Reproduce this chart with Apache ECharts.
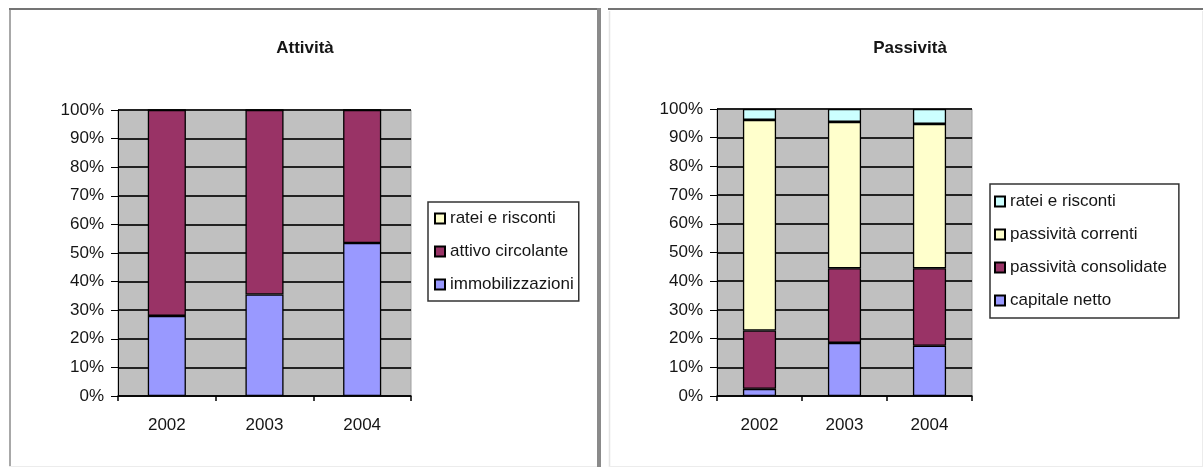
<!DOCTYPE html>
<html>
<head>
<meta charset="utf-8">
<script src="https://cdn.jsdelivr.net/npm/echarts@6/dist/echarts.min.js"></script>
<style>
html,body{margin:0;padding:0;background:#fff;}
#c{width:1203px;height:467px;}
</style>
</head>
<body>
<div id="c"></div>
<script>
// ---- data ----
const years = ['2002', '2003', '2004'];
const yTicks = [0, 10, 20, 30, 40, 50, 60, 70, 80, 90, 100];

// Attività (%)
const immobilizzazioni = [28, 35.5, 53.5];
const attivoCircolante = [72, 64.5, 46.5];
const rateiAttivo = [0, 0, 0];

// Passività (%)
const capitaleNetto = [2.5, 18.5, 17.5];
const passivitaConsolidate = [20.3, 26, 27];
const passivitaCorrenti = [73.4, 51, 50.3];
const rateiPassivo = [3.8, 4.5, 5.2];

const leftTitle = 'Attività';
const rightTitle = 'Passività';
const leftNames = ['immobilizzazioni', 'attivo circolante', 'ratei e risconti'];
const rightNames = ['capitale netto', 'passività consolidate', 'passività correnti', 'ratei e risconti'];

// ---- chart ----
const FONT = '"Liberation Sans", Arial, sans-serif';
const TXT = '#151515';
const PREFIX_R = 'P|';

function yAxis(gridIndex) {
  return {
    type: 'value', gridIndex: gridIndex, min: 0, max: 100, interval: 10,
    axisLine: {show: true, lineStyle: {color: '#000', width: 1}},
    axisTick: {show: true, length: 7, lineStyle: {color: '#000', width: 1}},
    axisLabel: {formatter: '{value}%', color: TXT, fontSize: 17, fontFamily: FONT, margin: 14},
    splitLine: {show: true, lineStyle: {color: '#222', width: 2}}
  };
}
function xAxis(gridIndex) {
  return {
    type: 'category', gridIndex: gridIndex, data: years,
    axisLine: {show: true, lineStyle: {color: '#000', width: 1.5}},
    axisTick: {show: true, length: 5, lineStyle: {color: '#000', width: 1.5}},
    axisLabel: {color: TXT, fontSize: 17, fontFamily: FONT, margin: 21},
    splitLine: {show: false}
  };
}
function bar(name, data, color, idx) {
  return {
    type: 'bar', name: name, data: data, stack: 's' + idx,
    xAxisIndex: idx, yAxisIndex: idx, barWidth: '39%',
    itemStyle: {color: color, borderColor: '#000', borderWidth: 1.3},
    emphasis: {disabled: true}
  };
}
function legend(names, left, top, pad) {
  return {
    orient: 'vertical', left: left, top: top,
    data: names.slice().reverse(),
    icon: 'rect', itemWidth: 10, itemHeight: 10, itemGap: 16,
    padding: pad,
    borderColor: '#333', borderWidth: 1.5,
    selectedMode: false,
    formatter: function (n) { return n.indexOf(PREFIX_R) === 0 ? n.slice(PREFIX_R.length) : n; },
    textStyle: {color: TXT, fontSize: 17, fontFamily: FONT}
  };
}

const rNames = rightNames.map(n => PREFIX_R + n);

const option = {
  animation: false,
  backgroundColor: '#fff',
  title: [
    {text: leftTitle, left: 300, top: 35, textAlign: 'center',
     textStyle: {fontSize: 17, fontWeight: 'bold', color: TXT, fontFamily: FONT}},
    {text: rightTitle, left: 905, top: 35, textAlign: 'center',
     textStyle: {fontSize: 17, fontWeight: 'bold', color: TXT, fontFamily: FONT}}
  ],
  grid: [
    {left: 118, top: 110, width: 293, height: 286, show: true, backgroundColor: '#C0C0C0', borderColor: '#a0a0a0', borderWidth: 1},
    {left: 717, top: 109, width: 255, height: 287, show: true, backgroundColor: '#C0C0C0', borderColor: '#a0a0a0', borderWidth: 1}
  ],
  xAxis: [xAxis(0), xAxis(1)],
  yAxis: [yAxis(0), yAxis(1)],
  legend: [
    legend(leftNames, 428, 202, [8, 5, 8, 6]),
    legend(rNames, 990, 184, [9, 12, 9, 4])
  ],
  series: [
    bar(leftNames[0], immobilizzazioni, '#9999FF', 0),
    bar(leftNames[1], attivoCircolante, '#993366', 0),
    bar(leftNames[2], rateiAttivo, '#FFFFCC', 0),
    bar(rNames[0], capitaleNetto, '#9999FF', 1),
    bar(rNames[1], passivitaConsolidate, '#993366', 1),
    bar(rNames[2], passivitaCorrenti, '#FFFFCC', 1),
    bar(rNames[3], rateiPassivo, '#CCFFFF', 1)
  ],
  graphic: [
    // left chart frame
    {type: 'line', shape: {x1: 10, y1: 9, x2: 10, y2: 467}, style: {stroke: '#a8a8a8', lineWidth: 2}, silent: true},
    {type: 'line', shape: {x1: 9, y1: 9, x2: 599, y2: 9}, style: {stroke: '#747474', lineWidth: 2}, silent: true},
    {type: 'line', shape: {x1: 599, y1: 8, x2: 599, y2: 467}, style: {stroke: '#8a8a8a', lineWidth: 4}, silent: true},
    {type: 'line', shape: {x1: 9, y1: 466.5, x2: 597, y2: 466.5}, style: {stroke: '#ececec', lineWidth: 1}, silent: true},
    // right chart frame
    {type: 'line', shape: {x1: 608, y1: 9, x2: 1203, y2: 9}, style: {stroke: '#747474', lineWidth: 2}, silent: true},
    {type: 'line', shape: {x1: 609.5, y1: 11, x2: 609.5, y2: 467}, style: {stroke: '#e4e4e4', lineWidth: 1.5}, silent: true},
    {type: 'line', shape: {x1: 1202.5, y1: 11, x2: 1202.5, y2: 467}, style: {stroke: '#ececec', lineWidth: 1}, silent: true},
    {type: 'line', shape: {x1: 609, y1: 466.5, x2: 1203, y2: 466.5}, style: {stroke: '#ececec', lineWidth: 1}, silent: true}
  ]
};

const chart = echarts.init(document.getElementById('c'), null, {renderer: 'canvas'});
chart.setOption(option);
</script>
</body>
</html>
